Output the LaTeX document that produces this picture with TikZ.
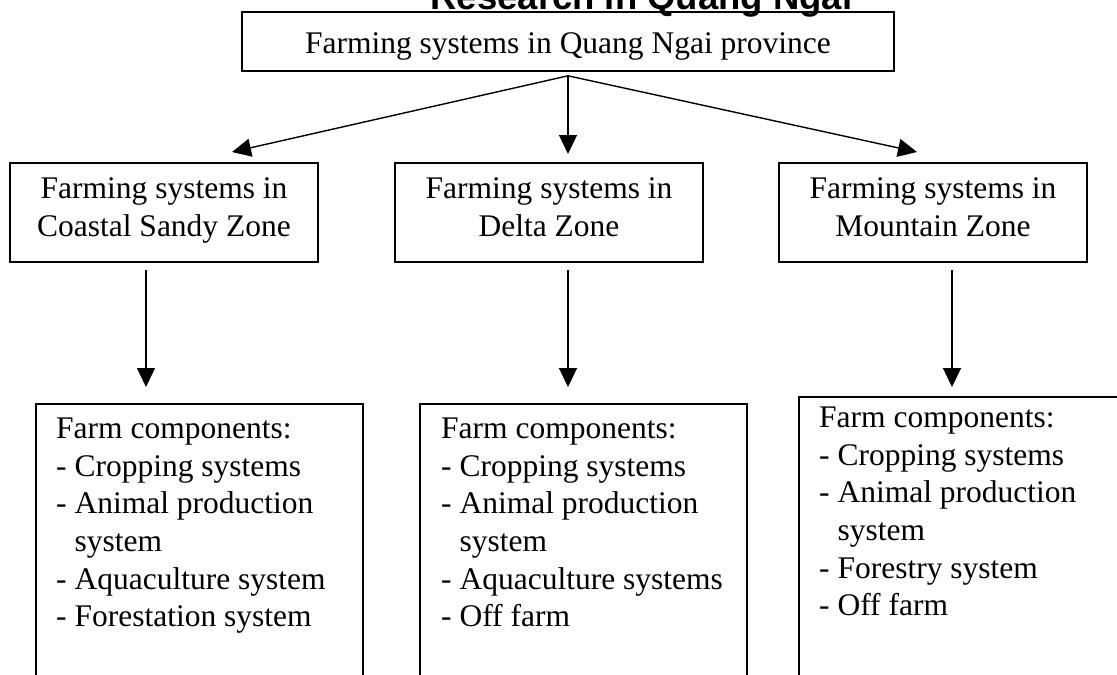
\documentclass[tikz,border=0pt]{standalone}
\usepackage{fontspec}
\setmainfont{Liberation Serif}
\newfontfamily\headfont{Liberation Sans}
\usetikzlibrary{arrows.meta}
\newcommand{\boxfont}{\fontsize{31.5}{37.7}\selectfont}
\newcommand{\wrapin}{\hphantom{-\ }}
\tikzset{
    x=1pt, y=-1pt,
    every node/.style={inner sep=0pt},
    flowarrow/.style={-{Triangle[length=19pt, width=18pt]}, line width=1.4pt},
    provbox/.style={draw, line width=1.6pt, minimum width=652pt,
        minimum height=59pt, font=\boxfont, text height=30pt, text depth=7pt},
    zonebox/.style={draw, line width=1.6pt, minimum width=308pt,
        minimum height=99pt, font=\boxfont, align=center,
        execute at begin node=\strut, execute at end node=\strut},
    compbox/.style={draw, line width=1.6pt, minimum width=327pt,
        minimum height=400pt, anchor=north west},
    complist/.style={font=\boxfont, align=left, anchor=north west,
        execute at begin node=\strut},
}

\begin{document}
\begin{tikzpicture}
    \useasboundingbox (0, 0) rectangle (1117, 675);
    \node[font=\headfont\fontsize{36.5}{44}\selectfont\bfseries, anchor=base]
        (title) at (641.5, 9.5) {Research in Quang Ngai};
    \node[provbox] (prov) at (568, 41.5) {Farming systems in Quang Ngai province};
    \node[zonebox] (coast) at (164, 212.5) {Farming systems in\\Coastal Sandy Zone};
    \node[zonebox] (delta) at (549, 212.5) {Farming systems in\\Delta Zone};
    \node[zonebox] (mount) at (933, 212.5) {Farming systems in\\Mountain Zone};
    \node[compbox] (compcoast) at (35, 403) {};
    \node[compbox] (compdelta) at (419, 403) {};
    \node[compbox] (compmount) at (798, 396) {};
    \node[complist] (listcoast) at ([xshift=21pt, yshift=-14.6pt]compcoast.north west)
        {Farm components:\\- Cropping systems\\- Animal production\\\wrapin system\\
        - Aquaculture system\\- Forestation system};
    \node[complist] (listdelta) at ([xshift=22pt, yshift=-14.6pt]compdelta.north west)
        {Farm components:\\- Cropping systems\\- Animal production\\\wrapin system\\
        - Aquaculture systems\\- Off farm};
    \node[complist] (listmount) at ([xshift=21pt, yshift=-10.6pt]compmount.north west)
        {Farm components:\\- Cropping systems\\- Animal production\\\wrapin system\\
        - Forestry system\\- Off farm};
    % province to zones
    \coordinate (fork) at ([yshift=-4pt]prov.south);
    \coordinate (tipcoast) at (232, 152);
    \coordinate (tipdelta) at (568, 154);
    \coordinate (tipmount) at (917, 152);
    \foreach \tip in {tipcoast, tipdelta, tipmount}
        \draw[flowarrow] (fork) -- (\tip);
    % zones to farm components
    \foreach \zone/\comp/\x/\gap in {coast/compcoast/146/16pt,
        delta/compdelta/568/16pt, mount/compmount/952/9pt}
        \draw[flowarrow, shorten <=7pt, shorten >=\gap]
            (\x, 0 |- \zone.south) -- (\x, 0 |- \comp.north);
\end{tikzpicture}
\end{document}
